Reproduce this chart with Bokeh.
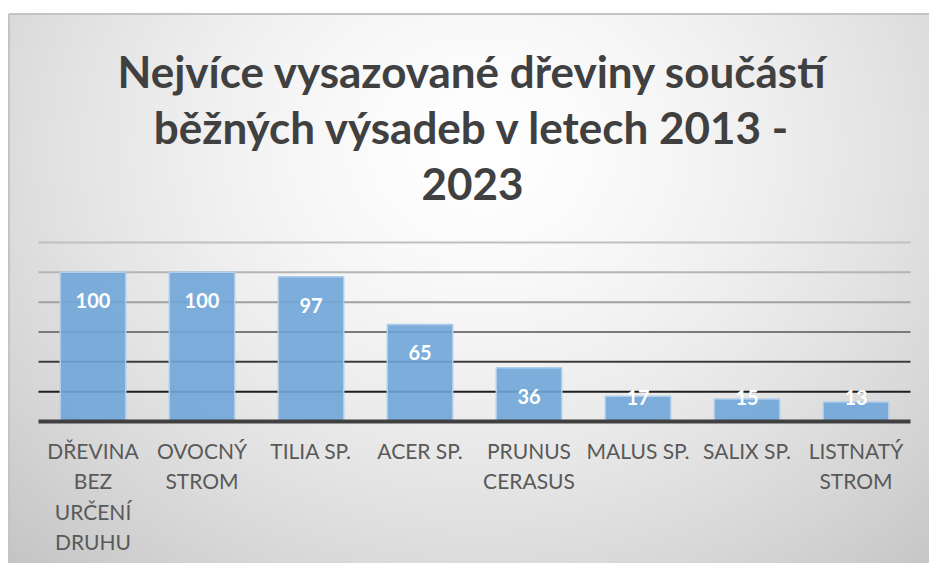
import numpy as np
from bokeh.plotting import figure
from bokeh.models import Range1d, FixedTicker, Label
from bokeh.core.properties import value
from bokeh.embed import file_html
from bokeh.resources import INLINE

# ---- data ----
categories = ["DŘEVINA\nBEZ\nURČENÍ\nDRUHU", "OVOCNÝ\nSTROM", "TILIA SP.", "ACER SP.",
              "PRUNUS\nCERASUS", "MALUS SP.", "SALIX SP.", "LISTNATÝ\nSTROM"]
counts = [100, 100, 97, 65, 36, 17, 15, 13]
grid_values = [20, 40, 60, 80, 100, 120]
grid_colors = ["#1e1e1e", "#3c3c3c", "#7a7a7a", "#a0a0a0", "#b4b4b4", "#c0c0c0"]
title_lines = ["Nejvíce vysazované dřeviny součástí", "běžných výsadeb v letech 2013 -", "2023"]

# ---- layout (pixel geometry) ----
W, H = 929, 563
X0PX, XSTEP = 38.0, 109.0      # px of synthetic x=0, px per category
Y0PX, YSCALE = 421.0, 1.4917   # px (from top) of value 0, px per unit
BL, BT = 8, 13                 # chart border left / top

def fx(px):
    return (px - X0PX) / XSTEP

def fy(py):
    return (Y0PX - py) / YSCALE

xs = [i + 0.5 for i in range(len(categories))]

p = figure(width=W, height=H, output_backend="svg", toolbar_location=None,
           x_range=Range1d(fx(0), fx(W)), y_range=Range1d(fy(H), fy(0)),
           y_axis_location=None, min_border=0, outline_line_color=None,
           background_fill_color="white", border_fill_color="white")
p.xgrid.visible = False
p.ygrid.visible = False

# background radial gradient
nx, ny = 461, 275
gx = np.linspace(BL, W, nx)
gy = np.linspace(BT, H, ny)
GX, GY = np.meshgrid(gx, gy)
d = np.sqrt(((GX - 480) / 560.0) ** 2 + ((GY - 150) / 480.0) ** 2)
v = 255 - 44 * np.clip(d, 0, 1.3) ** 1.5
v = np.clip(v, 0, 255).astype(np.uint32)
img = (255 << 24) | (v << 16) | (v << 8) | v
img = img[::-1].copy()  # row 0 = bottom
p.image_rgba(image=[img.view(np.uint32)], x=fx(BL), y=fy(H), dw=(W - BL) / XSTEP, dh=(H - BT) / YSCALE)

# chart border
p.segment(x0=[fx(BL + 0.5), fx(BL + 0.5)], y0=[fy(BT + 0.5), fy(BT + 0.5)],
          x1=[fx(BL + 0.5), fx(W)], y1=[fy(H), fy(BT + 0.5)],
          line_color="#c4c4c4", line_width=2)

# gridlines
n = len(categories)
p.segment(x0=[0] * len(grid_values), x1=[n] * len(grid_values), y0=grid_values, y1=grid_values,
          line_color=grid_colors, line_width=2)

# bars
p.vbar(x=xs, top=counts, width=0.6, bottom=0, fill_color="#6fa5d8", fill_alpha=0.9,
       line_color="#b0cdec", line_width=1.5)

# baseline
p.segment(x0=[0], x1=[n], y0=[0], y1=[0], line_color="#404040", line_width=4)

# data labels
label_y = [max(c - 19.0, 16.3) for c in counts]
p.text(x=xs, y=label_y, text=[str(c) for c in counts], text_color="white",
       text_font=value("Lato"), text_font_style="bold", text_font_size="20px",
       text_align="center", text_baseline="middle")

# x axis
ax = p.xaxis[0]
ax.fixed_location = 0
ax.ticker = FixedTicker(ticks=xs)
ax.major_label_overrides = {x: c for x, c in zip(xs, categories)}
ax.axis_line_color = None
ax.major_tick_line_color = None
ax.minor_tick_line_color = None
ax.major_label_standoff = 10
ax.major_label_text_font = "Lato"
ax.major_label_text_font_size = "21px"
ax.major_label_text_color = "#595959"
ax.major_label_text_line_height = 1.22

# title
for i, t in enumerate(title_lines):
    p.add_layout(Label(x=fx(472), y=fy(70 + 56.5 * i), text=t, text_font="Lato",
                       text_font_style="bold", text_font_size="44px", text_color="#404040",
                       text_align="center", text_baseline="middle"))

open("out.html", "w").write(file_html(p, INLINE))
